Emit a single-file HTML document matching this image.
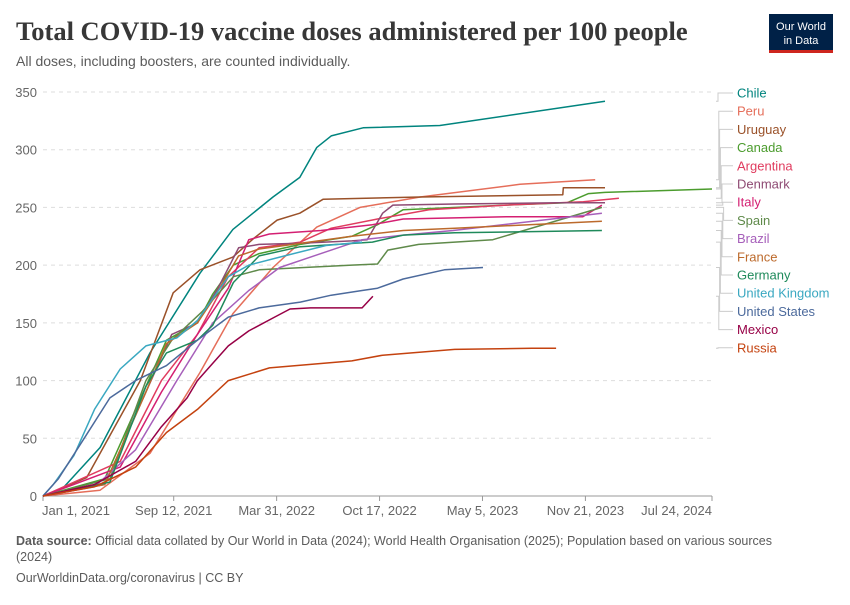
<!DOCTYPE html>
<html><head><meta charset="utf-8"><style>
body{margin:0;background:#fff;width:850px;height:600px;overflow:hidden;font-family:"Liberation Sans",sans-serif}
</style></head><body>
<svg id="chart" width="850" height="600" xmlns="http://www.w3.org/2000/svg">
<text x="16" y="40" font-family="Liberation Serif,serif" font-weight="bold" font-size="26.5" fill="#373737">Total COVID-19 vaccine doses administered per 100 people</text>
<text x="16" y="66" font-size="14" fill="#5b5b5b">All doses, including boosters, are counted individually.</text>
<g>
<rect x="769" y="14" width="64" height="38" fill="#002147"/>
<rect x="769" y="50" width="64" height="3" fill="#ce261e"/>
<text x="801" y="30" font-size="11" fill="#fff" text-anchor="middle">Our World</text>
<text x="801" y="44" font-size="11" fill="#fff" text-anchor="middle">in Data</text>
</g>
<g id="grid"></g>
<g id="lines"></g>
<g id="legend"></g>
<text x="16" y="545" font-size="12.5" fill="#5b5b5b"><tspan font-weight="bold">Data source:</tspan> Official data collated by Our World in Data (2024); World Health Organisation (2025); Population based on various sources</text>
<text x="16" y="561" font-size="12.5" fill="#5b5b5b">(2024)</text>
<text x="16" y="582" font-size="12.5" fill="#5b5b5b">OurWorldinData.org/coronavirus | CC BY</text>
</svg>
<script>
const yTicks=[0,50,100,150,200,250,300,350];
const xTickDays=[0,254,454,654,854,1054,1300];
const xTickLabels=["Jan 1, 2021","Sep 12, 2021","Mar 31, 2022","Oct 17, 2022","May 5, 2023","Nov 21, 2023","Jul 24, 2024"];
const names=["Chile","Peru","Uruguay","Canada","Argentina","Denmark","Italy","Spain","Brazil","France","Germany","United Kingdom","United States","Mexico","Russia"];
const colors=["#00847e","#e56e5a","#9a5129","#4c9c2e","#e03c5f","#8e4a73","#d41f72","#5f8a4a","#a65fba","#bc6a2c","#1f8a5b","#3aa8c1","#4c6a9c","#970046","#c4420f"];
const chile=[[0,0],[39,7],[111,42],[208,124],[305,193],[369,231],[447,259],[499,276],[532,302],[560,312],[622,319],[771,321],[1092,342]];
const peru=[[0,0],[111,5],[208,37],[305,107],[369,158],[447,198],[532,233],[616,250],[733,259],[927,270],[1073,274]];
const uruguay=[[0,0],[85,16],[189,100],[253,176],[305,196],[369,207],[409,223],[455,239],[499,245],[544,257],[733,259],[1010,261],[1011,267],[1092,267]];
const canada=[[0,0],[120,15],[190,85],[240,135],[300,150],[330,175],[370,200],[420,210],[500,218],[600,225],[650,235],[700,248],[900,252],[1018,254],[1060,262],[1092,263],[1300,266]];
const argentina=[[0,0],[150,30],[230,100],[300,140],[360,190],[420,215],[500,220],[560,232],[650,240],[750,248],[900,252],[1050,255],[1119,258]];
const denmark=[[0,0],[120,10],[200,90],[250,140],[300,150],[340,180],[380,215],[420,218],[500,219],[600,221],[630,222],[660,245],[680,252],[800,253],[1000,254],[1092,254]];
const italy=[[0,0],[150,25],[230,90],[300,140],[360,180],[400,222],[440,227],[540,230],[640,235],[700,240],[900,242],[1049,242],[1086,252]];
const spain=[[0,0],[130,15],[200,100],[250,135],[310,160],[370,190],[420,196],[600,200],[650,201],[670,213],[730,218],[874,222],[1086,250]];
const brazil=[[0,0],[100,8],[180,40],[260,100],[330,150],[400,178],[460,198],[540,210],[620,222],[700,226],[797,230],[1086,245]];
const france=[[0,0],[120,10],[200,90],[240,132],[300,150],[330,170],[380,208],[420,214],[600,225],[700,230],[800,232],[1086,238]];
const germany=[[0,0],[130,12],[200,95],[240,124],[300,135],[330,148],[370,185],[420,208],[500,216],[640,220],[700,226],[800,228],[1086,230]];
const uk=[[0,0],[20,10],[60,35],[100,75],[150,110],[200,130],[260,137],[300,152],[360,190],[400,200],[460,207],[550,217],[620,220]];
const us=[[0,0],[30,15],[80,50],[130,85],[180,100],[240,113],[300,135],[360,155],[420,163],[500,168],[560,174],[620,178],[650,180],[700,188],[780,196],[855,198]];
const mexico=[[0,0],[100,10],[180,30],[230,60],[280,85],[300,100],[330,115],[360,130],[400,143],[450,155],[480,162],[520,163],[620,163],[641,173]];
const russia=[[0,0],[100,8],[180,25],[240,55],[300,75],[360,100],[440,111],[520,114],[600,117],[660,122],[800,127],[950,128],[997,128]];
const series=[chile,peru,uruguay,canada,argentina,denmark,italy,spain,brazil,france,germany,uk,us,mexico,russia];

const NS="http://www.w3.org/2000/svg";
const X0=43,X1=712,Y0=496,Y1=92;
function xs(d){return X0+(d/1300)*(X1-X0);}
function ys(v){return Y0-(v/350)*(Y0-Y1);}
function mk(t,a,p){const e=document.createElementNS(NS,t);for(const k in a)e.setAttribute(k,a[k]);p.appendChild(e);return e;}
const grid=document.getElementById('grid');
yTicks.forEach(v=>{
  if(v>0){const l=mk('line',{x1:X0,x2:X1,y1:ys(v),y2:ys(v),stroke:'#ddd','stroke-dasharray':'4,4'},grid);
  
  }
  const t=mk('text',{x:37,y:ys(v)+5,'text-anchor':'end','font-size':'13',fill:'#666'},grid);
  t.textContent=v;
  
  
});
const ax=mk('line',{x1:X0,x2:X1,y1:Y0,y2:Y0,stroke:'#999'},grid);


xTickDays.forEach((d,i)=>{
  const tk=mk('line',{x1:xs(d),x2:xs(d),y1:Y0,y2:Y0+5,stroke:'#999'},grid);
  
  
  const t=mk('text',{x:xs(d),y:Y0+19,'text-anchor':i==0?'start':(i==6?'end':'middle'),'font-size':'13',fill:'#666'},grid);
  if(i==0)t.setAttribute('x',xs(d)-1);
  t.textContent=xTickLabels[i];
  
  
});
const lg=document.getElementById('lines');
series.forEach((s,i)=>{
  const p=mk('path',{d:'M'+s.map(q=>xs(q[0]).toFixed(1)+','+ys(q[1]).toFixed(1)).join('L'),fill:'none',stroke:colors[i],'stroke-width':'1.5','stroke-linejoin':'round'},lg);
  
  
});
const leg=document.getElementById('legend');
names.forEach((n,i)=>{
  const ly=93+i*18.2;
  const s=series[i];const ey=ys(s[s.length-1][1]);
  const ex=718+Math.min(i,14-i)*0.8;
  const c=mk('path',{d:`M716,${ey.toFixed(1)}L${ex},${ey.toFixed(1)}L${ex},${ly.toFixed(1)}L733,${ly.toFixed(1)}`,fill:'none',stroke:'#ccc','stroke-width':'1'},leg);
  
  
  const t=mk('text',{x:737,y:ly+4.5,'font-size':'13',fill:colors[i]},leg);
  t.textContent=n;
  
  
});
</script>
</body></html>
